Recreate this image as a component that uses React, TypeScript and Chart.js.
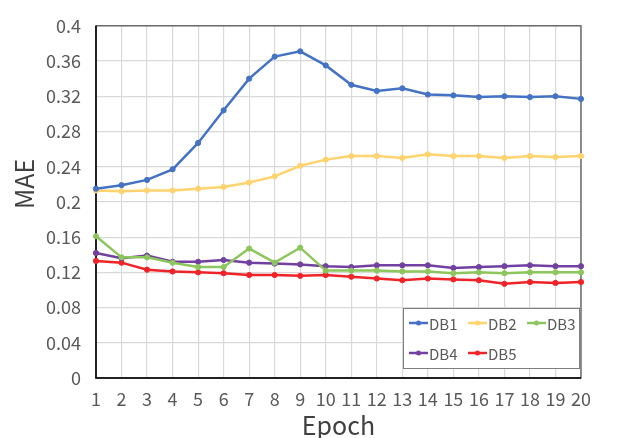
import React, { useEffect, useRef } from "react";
import { Chart, registerables } from "chart.js";

Chart.register(...registerables);

const epochs = ["1","2","3","4","5","6","7","8","9","10","11","12","13","14","15","16","17","18","19","20"];
const db1 = [0.215,0.219,0.225,0.237,0.267,0.304,0.340,0.365,0.371,0.355,0.333,0.326,0.329,0.322,0.321,0.319,0.320,0.319,0.320,0.317];
const db2 = [0.213,0.212,0.213,0.213,0.215,0.217,0.222,0.229,0.241,0.248,0.252,0.252,0.250,0.254,0.252,0.252,0.250,0.252,0.251,0.252];
const db3 = [0.161,0.137,0.137,0.131,0.126,0.126,0.147,0.131,0.148,0.122,0.122,0.122,0.121,0.121,0.119,0.120,0.119,0.120,0.120,0.120];
const db4 = [0.142,0.136,0.139,0.132,0.132,0.134,0.131,0.130,0.129,0.127,0.126,0.128,0.128,0.128,0.125,0.126,0.127,0.128,0.127,0.127];
const db5 = [0.133,0.131,0.123,0.121,0.120,0.119,0.117,0.117,0.116,0.117,0.115,0.113,0.111,0.113,0.112,0.111,0.107,0.109,0.108,0.109];
const seriesNames = ["DB1","DB2","DB3","DB4","DB5"];
const seriesColors = ["#4472C4","#FFD36E","#8CC65C","#7240A0","#F02428"];
const yTicks = { min: 0, max: 0.4, step: 0.04 };
const xTitle = "Epoch";
const yTitle = "MAE";

const FONT = "'Noto Sans CJK SC', 'Noto Sans', sans-serif";

const framePlugin = {
  id: "frame",
  beforeDatasetsDraw(chart: any) {
    const { ctx, chartArea: a } = chart;
    ctx.save();
    ctx.strokeStyle = "#595959";
    ctx.lineWidth = 1.3;
    ctx.strokeRect(a.left, a.top, a.right - a.left, a.bottom - a.top);
    ctx.strokeStyle = "#000000";
    ctx.lineWidth = 1.5;
    ctx.beginPath();
    ctx.moveTo(a.left, a.top);
    ctx.lineTo(a.left, a.bottom);
    ctx.lineTo(a.right, a.bottom);
    ctx.stroke();
    ctx.restore();
  },
  afterDraw(chart: any) {
    const { ctx, chartArea: a } = chart;
    ctx.save();
    // axis titles
    ctx.fillStyle = "#404040";
    ctx.font = `25px ${FONT}`;
    ctx.textAlign = "center";
    ctx.textBaseline = "alphabetic";
    ctx.fillText(xTitle, (a.left + a.right) / 2, 435);
    ctx.translate(34, 184);
    ctx.rotate(-Math.PI / 2);
    ctx.fillText(yTitle, 0, 0);
    ctx.restore();

    // legend
    ctx.save();
    const bx = 403, by = 308, bw = 176, bh = 60;
    ctx.fillStyle = "#ffffff";
    ctx.fillRect(bx, by, bw, bh);
    ctx.strokeStyle = "#7f7f7f";
    ctx.lineWidth = 1;
    ctx.strokeRect(bx + 0.5, by + 0.5, bw, bh);
    ctx.font = `15px ${FONT}`;
    ctx.textAlign = "left";
    ctx.textBaseline = "middle";
    chart.data.datasets.forEach((ds: any, i: number) => {
      const col = i % 3;
      const row = Math.floor(i / 3);
      const x0 = 409 + col * 59;
      const y0 = 323 + row * 30;
      ctx.strokeStyle = ds.borderColor;
      ctx.lineWidth = 2.5;
      ctx.beginPath();
      ctx.moveTo(x0, y0);
      ctx.lineTo(x0 + 19, y0);
      ctx.stroke();
      ctx.fillStyle = ds.borderColor;
      ctx.beginPath();
      ctx.arc(x0 + 9.5, y0, 2.5, 0, Math.PI * 2);
      ctx.fill();
      ctx.fillStyle = "#595959";
      ctx.fillText(ds.label, x0 + 20, y0 + 1);
    });
    ctx.restore();
  },
};

export default function App() {
  const ref = useRef<HTMLCanvasElement | null>(null);
  useEffect(() => {
    if (!ref.current) return;
    const chart = new Chart(ref.current, {
      type: "line",
      data: {
        labels: epochs,
        datasets: [db1, db2, db3, db4, db5].map((d, i) => ({
          label: seriesNames[i],
          data: d,
          borderColor: seriesColors[i],
          backgroundColor: seriesColors[i],
          borderWidth: 2.5,
          pointRadius: 2.6,
          pointBorderWidth: 1,
          pointHoverRadius: 3,
          tension: 0,
          clip: 8,
        })),
      },
      options: {
        animation: false,
        responsive: false,
        maintainAspectRatio: false,
        layout: { padding: { left: 0, right: 37, top: 17, bottom: 0 } },
        plugins: { legend: { display: false }, tooltip: { enabled: false } },
        font: { family: FONT },
        scales: {
          x: {
            offset: false,
            grid: { color: "#D9D9D9", lineWidth: 1.2, drawTicks: false },
            border: { display: false },
            ticks: { color: "#595959", font: { size: 18, family: FONT }, padding: 10, maxRotation: 0, autoSkip: false },
            afterFit: (s: any) => { s.height = 60; },
          },
          y: {
            min: yTicks.min,
            max: yTicks.max,
            grid: { color: "#D9D9D9", lineWidth: 1.2, drawTicks: false },
            border: { display: false },
            ticks: {
              stepSize: yTicks.step,
              color: "#595959",
              font: { size: 18, family: FONT },
              padding: 15,
              callback: (v: any) => String(Number(Number(v).toFixed(2))),
            },
            afterFit: (s: any) => { s.width = 96; },
          },
        },
      },
      plugins: [framePlugin],
    } as any);
    return () => chart.destroy();
  }, []);
  return (
    <div style={{ position: "absolute", left: 0, top: 0, width: 618, height: 438, background: "#fff" }}>
      <canvas ref={ref} width={618} height={438} style={{ display: "block" }} />
    </div>
  );
}
